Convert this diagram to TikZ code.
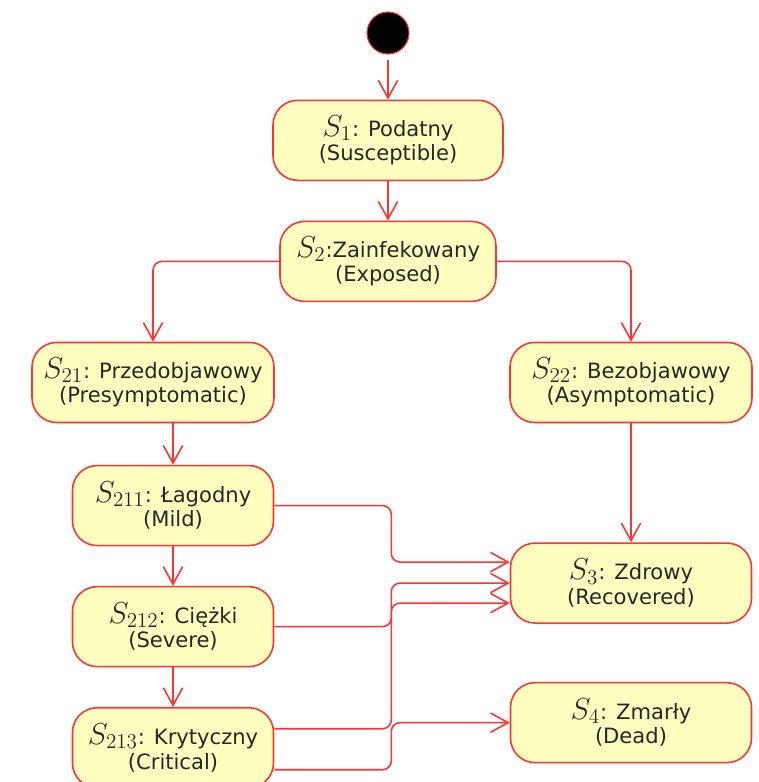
\documentclass[tikz,border=0pt]{standalone}
\usepackage{fontspec}
\setsansfont{DejaVu Sans}
\usetikzlibrary{arrows.meta, positioning}
\definecolor{lnred}{HTML}{FF3333}
\definecolor{boxfill}{HTML}{FFFFC0}

\begin{document}
\begin{tikzpicture}[
  statebox/.style={rectangle, rounded corners=14pt, draw=lnred, line width=0.9pt,
                   fill=boxfill, minimum height=1.6cm, align=center,
                   font=\sffamily\large, text=black!85, inner sep=2pt},
  startdot/.style={circle, fill=black, draw=lnred, line width=0.6pt, minimum size=0.84cm},
  arrow/.style={-{Straight Barb[length=10pt, width=11pt]}, line width=0.9pt,
                lnred, rounded corners=5pt},
  node distance=0.79cm
]
\useasboundingbox (0,0) rectangle (15.18,-15.64);
\node[startdot] (start) at (7.76,-0.66) {};
\node[statebox, minimum width=4.6cm,  below=0.9cm of start] (s1)
      {{\LARGE$S_1$}: Podatny\\(Susceptible)};
\node[statebox, minimum width=4.32cm, below=of s1] (s2)
      {{\LARGE$S_2$}:Zainfekowany\\(Exposed)};
\node[statebox, minimum width=4.84cm, below=of s2, xshift=-4.7cm] (s21)
      {{\LARGE$S_{21}$}: Przedobjawowy\\(Presymptomatic)};
\node[statebox, minimum width=4.84cm, below=of s2, xshift=4.86cm] (s22)
      {{\LARGE$S_{22}$}: Bezobjawowy\\(Asymptomatic)};
\node[statebox, minimum width=4.02cm, below=0.83cm of s21, xshift=0.4cm] (s211)
      {{\LARGE$S_{211}$}: Łagodny\\(Mild)};
\node[statebox, minimum width=4.02cm, below=of s211] (s212)
      {{\LARGE$S_{212}$}: Ciężki\\(Severe)};
\node[statebox, minimum width=4.02cm, below=of s212] (s213)
      {{\LARGE$S_{213}$}: Krytyczny\\(Critical)};
\node[statebox, minimum width=4.82cm, below=2.38cm of s22] (s3)
      {{\LARGE$S_3$}: Zdrowy\\(Recovered)};
\node[statebox, minimum width=4.82cm, below=1.16cm of s3] (s4)
      {{\LARGE$S_4$}: Zmarły\\(Dead)};
% main flow
\draw[arrow, shorten <=3pt] (start) -- (s1);
\draw[arrow] (s1) -- (s2);
\draw[arrow] (s2.west) -| (s21.north);
\draw[arrow] (s2.east) -| (s22.north);
\draw[arrow] (s21.south -| s211.north) -- (s211.north);
\draw[arrow] (s211) -- (s212);
\draw[arrow] (s212) -- (s213);
\draw[arrow] (s22.south) -- (s22.south |- s3.north);
% outcomes
\draw[arrow] (s211.east) -- ++(2.34,0) |- ([yshift=0.42cm]s3.west);
\draw[arrow] (s212.east) -- ++(2.34,0) |- (s3.west);
\draw[arrow] ([yshift=0.38cm]s213.east) -- ++(2.34,0) |- ([yshift=-0.4cm]s3.west);
\draw[arrow] ([yshift=-0.44cm]s213.east) -- ++(2.34,0) |- (s4.west);
\end{tikzpicture}
\end{document}
